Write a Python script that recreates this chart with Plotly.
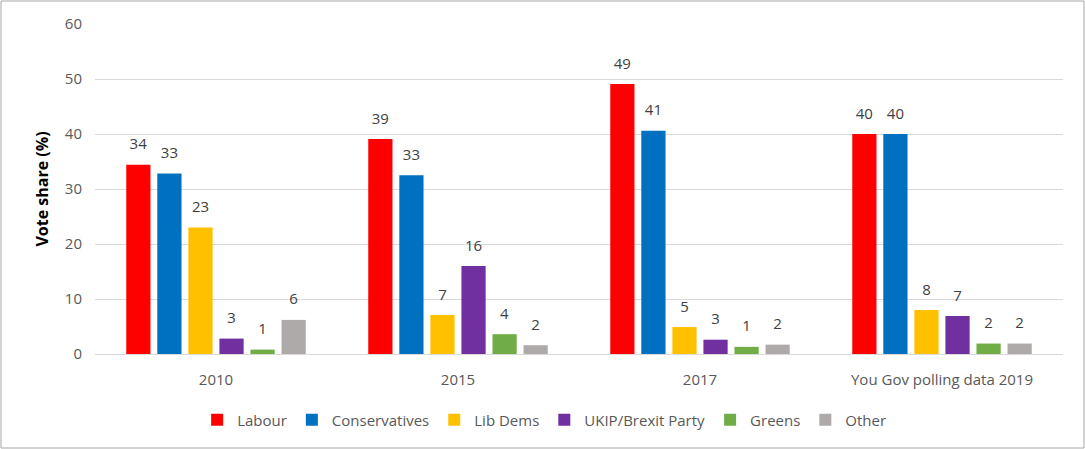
import plotly.graph_objects as go

categories = ["2010", "2015", "2017", "You Gov polling data 2019"]
labour = [34.4, 39.1, 49.1, 40.0]
conservatives = [32.8, 32.5, 40.6, 40.0]
lib_dems = [23.0, 7.1, 4.9, 8.0]
ukip_brexit = [2.8, 16.0, 2.6, 6.9]
greens = [0.8, 3.6, 1.3, 1.9]
other = [6.2, 1.6, 1.7, 1.9]

series = [
    ("Labour", labour, "#FF0000"),
    ("Conservatives", conservatives, "#0070C0"),
    ("Lib Dems", lib_dems, "#FFC000"),
    ("UKIP/Brexit Party", ukip_brexit, "#7030A0"),
    ("Greens", greens, "#70AD47"),
    ("Other", other, "#AEAAAA"),
]

FONT = "'Open Sans', Lato, sans-serif"

fig = go.Figure()
for name, vals, color in series:
    fig.add_trace(go.Bar(
        x=categories, y=vals, name=name,
        marker=dict(color=color, line=dict(width=0)),
        texttemplate="<span style='font-size:15px'>%{y:.0f}</span><br> ",
        textposition="outside",
        cliponaxis=False,
        textfont=dict(size=8, color="#404040", family=FONT),
        outsidetextfont=dict(size=8, color="#404040", family=FONT),
    ))

W, H = 1085, 449
ml, mr, mt, mb = 95, 22, 24, 95
pw, ph = W - ml - mr, H - mt - mb

fig.update_layout(
    width=W, height=H,
    margin=dict(l=ml, r=mr, t=mt, b=mb, autoexpand=False),
    paper_bgcolor="white", plot_bgcolor="white",
    barmode="group", bargap=0.23, bargroupgap=0.22,
    font=dict(family=FONT, color="#595959", size=14),
    legend=dict(orientation="h", x=0.464, xanchor="center", y=-0.2, yanchor="middle",
                font=dict(size=15, color="#595959"), itemwidth=30,
                bgcolor="rgba(0,0,0,0)", traceorder="normal"),
    yaxis=dict(range=[0, 60], dtick=10, showgrid=True, gridcolor="#D9D9D9",
               gridwidth=1, zeroline=False, showline=False,
               tickfont=dict(size=15, color="#595959"), ticks="", ticklabelstandoff=12,
               title=dict(text="<b>Vote share (%)</b>",
                          font=dict(size=16, color="#000000"), standoff=12)),
    xaxis=dict(showline=True, linecolor="#D9D9D9", linewidth=1,
               tickfont=dict(size=15, color="#595959"), ticks="",
               ticklabelstandoff=12),
    shapes=[dict(type="rect", xref="paper", yref="paper",
                 x0=-(ml - 1) / pw, x1=1 + (mr - 1) / pw,
                 y0=-(mb - 1) / ph, y1=1 + (mt - 1) / ph,
                 line=dict(color="#A6A6A6", width=1))],
)

fig.write_html("out.html")
